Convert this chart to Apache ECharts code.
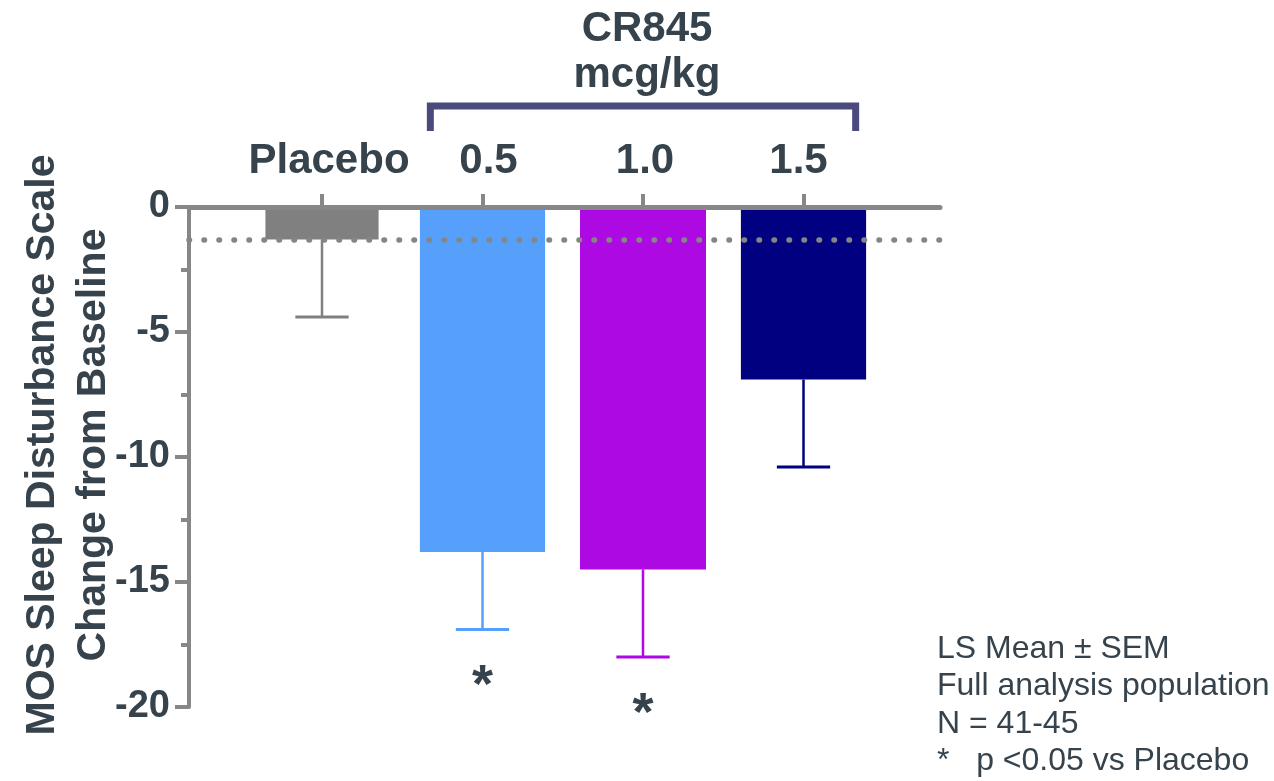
<!DOCTYPE html>
<html>
<head>
<meta charset="utf-8">
<script src="https://cdn.jsdelivr.net/npm/echarts@6/dist/echarts.min.js"></script>
<style>
html,body{margin:0;padding:0;background:#ffffff;}
#chart{width:1274px;height:781px;}
</style>
</head>
<body>
<div id="chart"></div>
<script>
// ---------------- data ----------------
const categories = ['Placebo', '0.5', '1.0', '1.5'];
const lsMean = [-1.3, -13.8, -14.5, -6.9];
const lowerSEM = [-4.4, -16.9, -18.0, -10.4];
const significant = [false, true, true, false];
const yTickValues = [0, -5, -10, -15, -20];
const groupRange = [1, 3];
const groupLabel = ['CR845', 'mcg/kg'];
const yAxisTitle = ['MOS Sleep Disturbance Scale', 'Change from Baseline'];
const footnotes = ['LS Mean \u00b1 SEM', 'Full analysis population', 'N = 41-45', '*   p <0.05 vs Placebo'];

// ---------------- style ----------------
const FONT = '"Liberation Sans", Arial, Helvetica, sans-serif';
const textColor = '#36434c';
const axisColor = '#878787';
const barColors = ['#808080', '#56a0fc', '#ad09e3', '#000080'];
const barWidthRatio = [0.705, 0.78, 0.785, 0.78];
const labelShift = [7, 6, 2, -5];
const bracketColor = '#4b4a7c';

const chart = echarts.init(document.getElementById('chart'), null, { renderer: 'canvas' });

const yMin = yTickValues[yTickValues.length - 1];
const yMax = yTickValues[0];

const catRich = {};
labelShift.forEach(function (s, i) {
  catRich['c' + i] = {
    color: textColor, fontSize: 42, fontWeight: 'bold', fontFamily: FONT,
    padding: s >= 0 ? [0, 0, 0, 2 * s] : [0, -2 * s, 0, 0]
  };
});

const option = {
  animation: false,
  backgroundColor: '#ffffff',
  grid: [
    { left: 189, right: 334, top: 207, bottom: 74 },
    { left: 241.75, width: 642, top: 207, bottom: 74 }
  ],
  xAxis: [
    {
      gridIndex: 0, type: 'value', position: 'top', min: 0, max: 1, z: 10,
      axisLine: { show: true, lineStyle: { color: axisColor, width: 5 } },
      axisTick: { show: false }, axisLabel: { show: false }, splitLine: { show: false }
    },
    {
      gridIndex: 1, type: 'category', position: 'top', data: categories, z: 10,
      axisLine: { show: false },
      axisTick: { show: true, interval: 0, alignWithLabel: true, length: 13, lineStyle: { color: axisColor, width: 4 } },
      axisLabel: {
        interval: 0, margin: 25, color: textColor, fontSize: 42, fontWeight: 'bold', fontFamily: FONT,
        formatter: function (v, idx) { return '{c' + idx + '|' + v + '}'; },
        rich: catRich
      },
      splitLine: { show: false }
    }
  ],
  yAxis: [
    {
      gridIndex: 0, type: 'value', min: yMin, max: yMax, interval: 5, z: 10,
      axisLine: { show: true, lineStyle: { color: axisColor, width: 4 } },
      axisTick: { show: true, length: 14, lineStyle: { color: axisColor, width: 4 } },
      minorTick: { show: true, splitNumber: 2, length: 8, lineStyle: { color: axisColor, width: 4 } },
      splitLine: { show: false }, minorSplitLine: { show: false },
      axisLabel: { margin: 19, color: textColor, fontSize: 38, fontWeight: 'bold', fontFamily: FONT },
      name: yAxisTitle.join('\n'),
      nameLocation: 'middle',
      nameRotate: 90,
      nameGap: 70,
      nameMoveOverlap: false,
      nameTextStyle: { color: textColor, fontSize: 41, fontWeight: 'bold', fontFamily: FONT, lineHeight: 51, padding: [0, 0, 0, 24] }
    },
    { gridIndex: 1, type: 'value', min: yMin, max: yMax, show: false }
  ],
  series: [
    {
      name: 'LS Mean',
      type: 'custom',
      xAxisIndex: 1, yAxisIndex: 1, z: 2,
      data: categories.map((c, i) => [i, lsMean[i]]),
      renderItem: function (params, api) {
        const i = api.value(0);
        const p0 = api.coord([i, 0]);
        const p1 = api.coord([i, api.value(1)]);
        const bw = api.size([1, 0])[0] * barWidthRatio[i];
        return {
          type: 'rect',
          shape: { x: p0[0] - bw / 2, y: p0[1], width: bw, height: p1[1] - p0[1] },
          style: { fill: barColors[i] }
        };
      }
    },
    {
      name: 'SEM',
      type: 'custom',
      xAxisIndex: 1, yAxisIndex: 1, z: 3,
      data: categories.map((c, i) => [i, lsMean[i], lowerSEM[i]]),
      renderItem: function (params, api) {
        const i = api.value(0);
        const pm = api.coord([i, api.value(1)]);
        const pl = api.coord([i, api.value(2)]);
        const half = api.size([1, 0])[0] * 0.166;
        const col = barColors[i];
        const children = [
          { type: 'line', shape: { x1: pm[0], y1: pm[1], x2: pl[0], y2: pl[1] }, style: { stroke: col, lineWidth: 2.5 } },
          { type: 'line', shape: { x1: pl[0] - half, y1: pl[1], x2: pl[0] + half, y2: pl[1] }, style: { stroke: col, lineWidth: 3 } }
        ];
        if (significant[i]) {
          children.push({
            type: 'text',
            style: {
              text: '*', x: pl[0], y: pl[1] + 58, align: 'center', verticalAlign: 'middle',
              fill: textColor, font: 'bold 54px ' + FONT
            }
          });
        }
        return { type: 'group', children: children };
      }
    },
    {
      name: 'Group',
      type: 'custom',
      xAxisIndex: 1, yAxisIndex: 1, z: 3,
      data: [[groupRange[0], groupRange[1]]],
      renderItem: function (params, api) {
        const a = api.coord([api.value(0), 0]);
        const b = api.coord([api.value(1), 0]);
        const step = api.size([1, 0])[0];
        const xL = a[0] - step * 0.325;
        const xR = b[0] + step * 0.325;
        const yB = a[1] - 101;
        return {
          type: 'group',
          children: [
            {
              type: 'polyline',
              shape: { points: [[xL, yB + 25], [xL, yB], [xR, yB], [xR, yB + 25]] },
              style: { stroke: bracketColor, lineWidth: 7, fill: null, lineJoin: 'miter' }
            },
            {
              type: 'text',
              style: {
                text: groupLabel.join('\n'), x: (xL + xR) / 2 + 4, y: yB - 8,
                align: 'center', verticalAlign: 'bottom', lineHeight: 46,
                fill: textColor, font: 'bold 42px ' + FONT
              }
            }
          ]
        };
      }
    },
    {
      name: 'Placebo level',
      type: 'line',
      xAxisIndex: 0, yAxisIndex: 0, z: 6,
      data: [],
      markLine: {
        silent: true,
        symbol: ['none', 'none'],
        label: { show: false },
        lineStyle: { color: '#858585', width: 5.5, type: [0.5, 14.5], cap: 'round' },
        data: [{ yAxis: lsMean[0] }]
      }
    }
  ],
  graphic: [
    {
      type: 'text', left: 937, top: 630,
      style: {
        text: footnotes.join('\n'), fill: textColor, lineHeight: 37.5,
        font: '32px ' + FONT
      }
    }
  ]
};

chart.setOption(option);
</script>
</body>
</html>
